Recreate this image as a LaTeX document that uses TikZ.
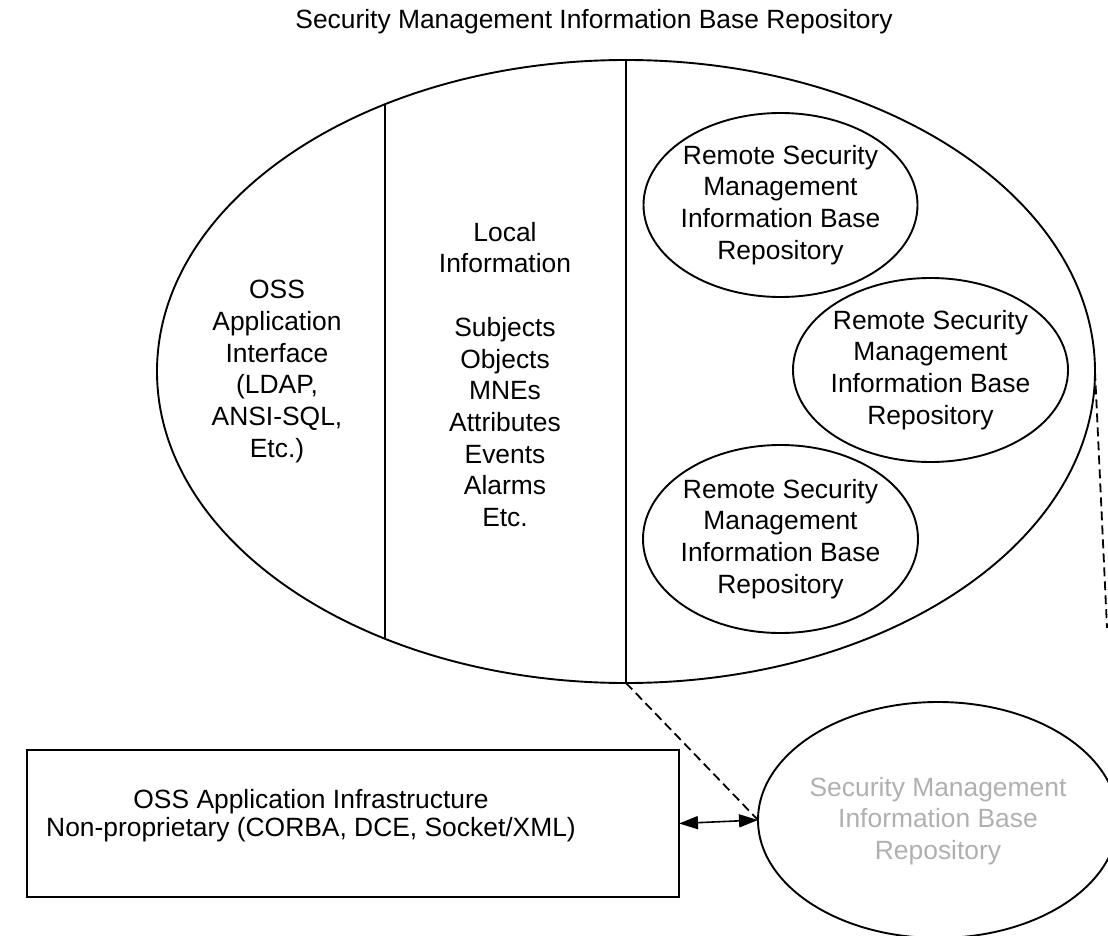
\documentclass[tikz,border=0pt]{standalone}
\usepackage{fontspec}
\setmainfont{Liberation Sans}
\usetikzlibrary{shapes.geometric,arrows.meta}

\definecolor{fadedtext}{RGB}{176,176,176}

\tikzset{
  outline/.style={draw=black, line width=1.9pt},
  oval/.style={ellipse, outline, inner sep=0pt, outer sep=0pt},
  label text/.style={align=center, inner sep=0pt,
    font=\fontsize{26.4}{31.7}\selectfont},
  link/.style={draw=black, line width=1.8pt, dash pattern=on 9pt off 5pt},
  bothways/.style={draw=black, line width=1.6pt,
    {Triangle[length=19pt,width=13pt]}-{Triangle[length=19pt,width=13pt]}},
}

\begin{document}
\begin{tikzpicture}[x=1pt, y=-1pt]
  \useasboundingbox (0,0) rectangle (1108,936);

  % heading
  \node[label text] (title) at (594,22)
    {Security Management Information Base Repository};

  % outer repository, split into three columns
  \node[oval, minimum width=938pt, minimum height=623pt] (big) at (626,371.5) {};
  \coordinate (divtop) at (385,104.3);
  \coordinate (divbot) at (385,638.7);
  \draw[outline] (big.north) -- (big.south);
  \draw[outline] (divtop) -- (divbot);

  \node[label text] (oss) at (277,371.5)
    {OSS\\Application\\Interface\\(LDAP,\\ANSI-SQL,\\Etc.)};

  \node[label text] (local) at (505,374.5)
    {Local\\Information\\[31.7pt]Subjects\\Objects\\MNEs\\Attributes\\Events\\Alarms\\Etc.};

  % remote repositories
  \node[oval, minimum width=274pt, minimum height=184pt] (r1) at (780.5,205) {};
  \node[label text] (r1text) at (r1.center)
    {Remote Security\\Management\\Information Base\\Repository};

  \node[oval, minimum width=275pt, minimum height=184pt] (r2) at (930.5,370) {};
  \node[label text] (r2text) at (r2.center)
    {Remote Security\\Management\\Information Base\\Repository};

  \node[oval, minimum width=275pt, minimum height=188pt] (r3) at (780.5,539) {};
  \node[label text] (r3text) at (r3.center)
    {Remote Security\\Management\\Information Base\\Repository};

  % infrastructure box
  \node[draw=black, line width=2pt, rectangle, minimum width=652pt,
        minimum height=147pt, inner sep=0pt, outer sep=0pt] (infra) at (353,823.5) {};
  \node[label text, font=\fontsize{26.4}{28}\selectfont] (infratext) at (311,816)
    {OSS Application Infrastructure\\Non-proprietary (CORBA, DCE, Socket/XML)};

  % repository seen from outside
  \node[oval, minimum width=360pt, minimum height=236pt] (smib) at (938,820) {};
  \node[label text, text=fadedtext] (smibtext) at (938,821)
    {Security Management\\Information Base\\Repository};

  % connectors
  \coordinate (edgeend) at (1107,628);
  \draw[link] (big.south) -- (smib.west);
  \draw[link] (big.east) -- (edgeend);
  \draw[bothways] (infra.east) -- (smib.west);
\end{tikzpicture}
\end{document}
